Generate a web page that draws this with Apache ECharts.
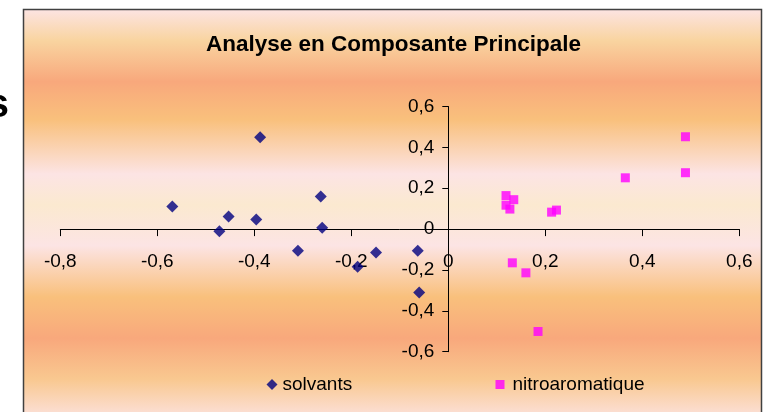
<!DOCTYPE html>
<html>
<head>
<meta charset="utf-8">
<script src="https://cdn.jsdelivr.net/npm/echarts@6/dist/echarts.min.js"></script>
<style>html,body{margin:0;padding:0;background:#fff}#c{width:765px;height:412px}</style>
</head>
<body>
<div id="c"></div>
<script>
var titleText = "Analyse en Composante Principale";
var seriesNames = ["solvants", "nitroaromatique"];
var solvantsX = [-0.388, -0.569, -0.453, -0.396, -0.472, -0.263, -0.260, -0.310, -0.149, -0.187, -0.063, -0.060];
var solvantsY = [0.449, 0.111, 0.062, 0.047, -0.010, 0.160, 0.006, -0.106, -0.114, -0.184, -0.106, -0.310];
var nitroX = [0.489, 0.489, 0.365, 0.119, 0.135, 0.119, 0.127, 0.213, 0.223, 0.132, 0.160, 0.185];
var nitroY = [0.452, 0.276, 0.251, 0.164, 0.144, 0.117, 0.098, 0.083, 0.093, -0.165, -0.214, -0.501];
var xTicks = {min: -0.8, max: 0.6, interval: 0.2};
var yTicks = {min: -0.6, max: 0.6, interval: 0.2};

function pairs(xs, ys) { return xs.map(function (x, i) { return [x, ys[i]]; }); }
function fmt(v) { return String(Math.round(v * 10) / 10).replace('.', ','); }

var FONT = "'Liberation Sans', Arial, sans-serif";
var chart = echarts.init(document.getElementById('c'), null, {renderer: 'canvas'});
var bg = new echarts.graphic.LinearGradient(0, 0, 0, 1, [
  {offset: 0.00, color: '#fce4e4'},
  {offset: 0.077, color: '#f9d4a0'},
  {offset: 0.176, color: '#f8a87c'},
  {offset: 0.268, color: '#f9c07c'},
  {offset: 0.40, color: '#fce4e4'},
  {offset: 0.474, color: '#fbe9d0'},
  {offset: 0.573, color: '#fce4e4'},
  {offset: 0.697, color: '#f9c07c'},
  {offset: 0.797, color: '#f8a87c'},
  {offset: 0.896, color: '#f9c890'},
  {offset: 1.00, color: '#fce4e4'}
]);
var GRID = {left: 60.3, right: 25.7, top: 106.5, bottom: 60.3};
chart.setOption({
  animation: false,
  backgroundColor: '#ffffff',
  graphic: [
    {type: 'rect', z: -100, shape: {x: 23.5, y: 9.5, width: 738, height: 412},
     style: {fill: bg, stroke: '#404040', lineWidth: 1.5}},
    {type: 'text', z: -90, x: 9, y: 106, style: {text: 's', font: 'bold 40px ' + FONT, fill: '#000', align: 'right', verticalAlign: 'middle'}}
  ],
  title: {
    text: titleText, left: 388.5, top: 28, textAlign: 'center',
    textStyle: {fontFamily: FONT, fontSize: 22.5, fontWeight: 'bold', color: '#000'}
  },
  legend: [
    {data: [{name: seriesNames[0], icon: 'diamond'}], left: 261.5, top: 370, itemWidth: 11, itemHeight: 11, itemGap: 0,
     textStyle: {fontFamily: FONT, fontSize: 19, color: '#000'}},
    {data: [{name: seriesNames[1], icon: 'rect'}], left: 490.5, top: 370, itemWidth: 9, itemHeight: 9, itemGap: 0,
     textStyle: {fontFamily: FONT, fontSize: 19, color: '#000', padding: [0, 0, 0, 3]}}
  ],
  grid: {left: GRID.left, right: GRID.right, top: GRID.top, bottom: GRID.bottom, containLabel: false},
  xAxis: {
    type: 'value', min: xTicks.min, max: xTicks.max, interval: xTicks.interval,
    axisLine: {show: true, onZero: false, lineStyle: {color: '#000', width: 1}},
    axisTick: {show: true, inside: false, length: 7, lineStyle: {color: '#000'}},
    axisLabel: {margin: 23, fontFamily: FONT, fontSize: 19, color: '#000', formatter: fmt},
    splitLine: {show: false}
  },
  yAxis: {
    type: 'value', min: yTicks.min, max: yTicks.max, interval: yTicks.interval,
    axisLine: {show: true, onZero: false, lineStyle: {color: '#000', width: 1}},
    axisTick: {show: true, inside: false, length: 6, lineStyle: {color: '#000'}},
    axisLabel: {margin: 14, fontFamily: FONT, fontSize: 19, color: '#000', formatter: fmt},
    splitLine: {show: false}
  },
  series: [
    {name: seriesNames[0], type: 'scatter', symbol: 'diamond', symbolSize: 12,
     itemStyle: {color: '#000080'}, data: pairs(solvantsX, solvantsY)},
    {name: seriesNames[1], type: 'scatter', symbol: 'rect', symbolSize: 9,
     itemStyle: {color: '#ff00ff'}, data: pairs(nitroX, nitroY)}
  ]
});
// move both axes (line, ticks and labels) to cross at zero, using the library's scales
var zero = chart.convertToPixel({gridIndex: 0}, [0, 0]);
var bottomY = chart.getHeight() - GRID.bottom;
chart.setOption({
  xAxis: {offset: -(bottomY - zero[1])},
  yAxis: {offset: -(zero[0] - GRID.left)}
});
</script>
</body>
</html>
